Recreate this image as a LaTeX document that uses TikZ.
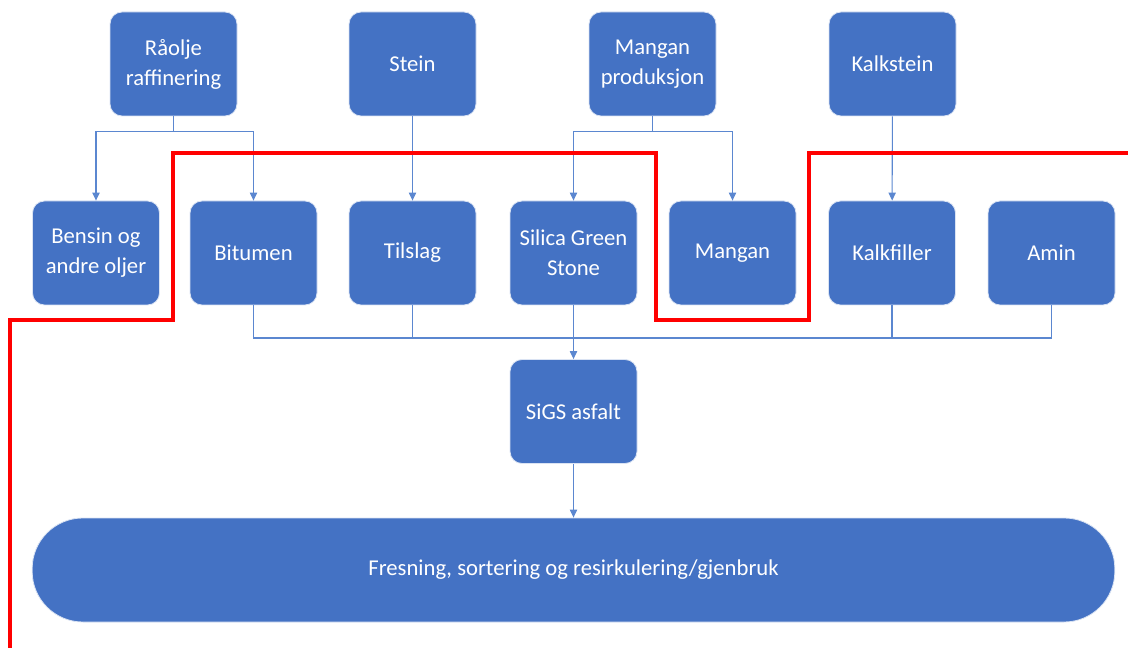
\documentclass[tikz,border=0pt]{standalone}
\usepackage{fontspec}
\setmainfont{Carlito}
\usepackage{tikz}
\usetikzlibrary{positioning, calc}
\usetikzlibrary{arrows.meta}
\definecolor{boksblaa}{HTML}{4472C4}
\definecolor{linjeblaa}{HTML}{5B87D0}

\begin{document}
\begin{tikzpicture}[x=0.75pt, y=-0.75pt, >={Triangle[length=6pt,width=5.5pt]},
  boks/.style={draw=white!80!boksblaa, line width=0.6pt, fill=boksblaa, text=white,
    rounded corners=9pt, minimum width=95.25pt, minimum height=78pt,
    align=center, font=\fontsize{17}{22.5}\selectfont},
  linje/.style={draw=linjeblaa, line width=0.8pt},
  grense/.style={draw=red, line width=2.8pt}]

\useasboundingbox (0,0) rectangle (1128,648);

% ================== Rad 1: kilder ==================
\node[boks] (raolje)   at (173.5,64) {Råolje\\raffinering};
\node[boks] (stein)    at (412.5,64) {Stein};
\node[boks] (manganp)  at (652.5,64) {Mangan\\produksjon};
\node[boks] (kalkstein) at (892.5,64) {Kalkstein};

% ================== Rad 2: produkter ==================
\node[boks] (bensin)     at (96,253)    {Bensin og\\andre oljer};
\node[boks] (bitumen)    at (253.5,253) {Bitumen};
\node[boks] (tilslag)    at (412.5,253) {Tilslag};
\node[boks] (silica)     at (573.5,253) {Silica Green\\Stone};
\node[boks] (mangan)     at (732.5,253) {Mangan};
\node[boks] (kalkfiller) at (892,253)   {Kalkfiller};
\node[boks] (amin)       at (1051.5,253) {Amin};

% ================== Asfalt og gjenbruk ==================
\node[boks] (sigs) at (573.5,411.5) {SiGS asfalt};
\node[boks, minimum width=812pt, rounded corners=38pt] (fresning) at (573.5,570)
  {Fresning, sortering og resirkulering/gjenbruk};

% --- Piler fra kilder
\draw[linje,->] (raolje.south) -- ++(0,15) -| (bensin.north);
\draw[linje,->] (raolje.south) -- ++(0,15) -| (bitumen.north);
\draw[linje,->] (stein) -- (tilslag);
\draw[linje,->] (manganp.south) -- ++(0,15) -| (silica.north);
\draw[linje,->] (manganp.south) -- ++(0,15) -| (mangan.north);
\draw[linje,->] (kalkstein) -- (kalkfiller);

% --- Samling mot SiGS asfalt
\coordinate (samle) at (573.5,338);
\foreach \n in {bitumen,tilslag,kalkfiller,amin}
  \draw[linje] (\n.south) |- (samle);
\draw[linje] (silica.south) -- (samle);
\draw[linje,->] (samle) -- (sigs.north);
\draw[linje,->] (sigs) -- (fresning);

% --- Rød grenselinje
\draw[grense] (10,648) |- (173,320) |- (656,153) |- (809,320) |- (1128,153);

\end{tikzpicture}
\end{document}
